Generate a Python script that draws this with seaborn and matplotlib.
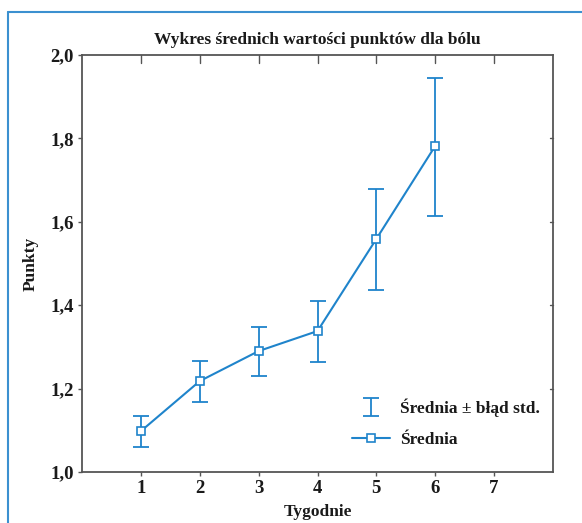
import matplotlib
matplotlib.use("Agg")
import matplotlib.pyplot as plt
import seaborn as sns
import pandas as pd
from matplotlib.lines import Line2D
from matplotlib.ticker import FixedLocator

weeks = [1, 2, 3, 4, 5, 6]
means = [1.098, 1.218, 1.290, 1.338, 1.559, 1.782]
lower = [1.060, 1.168, 1.230, 1.264, 1.436, 1.614]
upper = [1.134, 1.266, 1.348, 1.410, 1.679, 1.945]
x_ticks = [1, 2, 3, 4, 5, 6, 7]
y_ticks = [1.0, 1.2, 1.4, 1.6, 1.8, 2.0]
y_tick_labels = ["1,0", "1,2", "1,4", "1,6", "1,8", "2,0"]
title = "Wykres średnich wartości punktów dla bólu"
x_label = "Tygodnie"
y_label = "Punkty"
legend_err = "Średnia ± błąd std."
legend_mean = "Średnia"

sns.set_theme(style="white")
plt.rcParams["font.family"] = ["Liberation Serif", "DejaVu Serif"]

blue = "#1f84cb"
axis_col = "#555555"
txt_col = "#1a1a1a"

df = pd.DataFrame({"week": weeks, "mean": means, "lo": lower, "hi": upper})

fig = plt.figure(figsize=(5.82, 5.23), dpi=100)
ax = fig.add_axes([82/582, 51/523, (553-82)/582, (472-55)/523])

yerr = [[m - l for m, l in zip(means, lower)], [h - m for m, h in zip(means, upper)]]
eb = ax.errorbar(df["week"], df["mean"], yerr=yerr, fmt="none", ecolor=blue,
                 elinewidth=1.3, capsize=6, capthick=1.3, zorder=2)
sns.lineplot(data=df, x="week", y="mean", ax=ax, color=blue, linewidth=1.5,
             marker="s", markersize=6, markerfacecolor="white",
             markeredgecolor=blue, markeredgewidth=1.2, zorder=3)

ax.set_xlim(0, 8)
ax.set_ylim(1.0, 2.0)
ax.xaxis.set_major_locator(FixedLocator(x_ticks))
ax.set_xticklabels([str(t) for t in x_ticks], fontsize=13.5, fontweight="bold", color=txt_col)
ax.set_yticks(y_ticks)
ax.set_yticklabels(y_tick_labels, fontsize=13.5, fontweight="bold", color=txt_col)
ax.tick_params(axis="both", which="both", direction="out", length=3, width=1,
               color=axis_col, pad=3, bottom=True, left=True)
ax.tick_params(axis="x", pad=3)
for s in ax.spines.values():
    s.set_color(axis_col)
    s.set_linewidth(1.3)
    s.set_visible(True)

# inward ticks on top and right
for xt in x_ticks:
    ax.plot([xt, xt], [2.0, 2.0 - 0.018], color=axis_col, lw=1, clip_on=False, zorder=1)
for yt in y_ticks[1:-1]:
    ax.plot([8, 8 - 0.05], [yt, yt], color=axis_col, lw=1, clip_on=False, zorder=1)

ax.set_title(title, fontsize=12.5, fontweight="bold", color=txt_col, pad=8)
ax.set_xlabel(x_label, fontsize=12.5, fontweight="bold", color=txt_col, labelpad=5)
ax.set_ylabel(y_label, fontsize=12.5, fontweight="bold", color=txt_col, labelpad=8)

mean_handle = Line2D([], [], color=blue, lw=1.5, marker="s", markersize=6,
                     markerfacecolor="white", markeredgecolor=blue, markeredgewidth=1.2)
leg = ax.legend([eb, mean_handle], [legend_err, legend_mean], loc="lower right",
                bbox_to_anchor=(1.006, 0.02), frameon=False,
                prop={"size": 12.5, "weight": "bold"},
                handlelength=2.2, labelspacing=0.85, handletextpad=0.6)
for t in leg.get_texts():
    t.set_color(txt_col)

# blue frame
fig.add_artist(Line2D([8/582, 8/582], [0, 1 - 12/523], color="#3b90d0", lw=1.5,
                      transform=fig.transFigure))
fig.add_artist(Line2D([8/582, 1.0], [1 - 12/523, 1 - 12/523], color="#3b90d0", lw=1.5,
                      transform=fig.transFigure))

fig.savefig("out.png", dpi=100, facecolor="white")
